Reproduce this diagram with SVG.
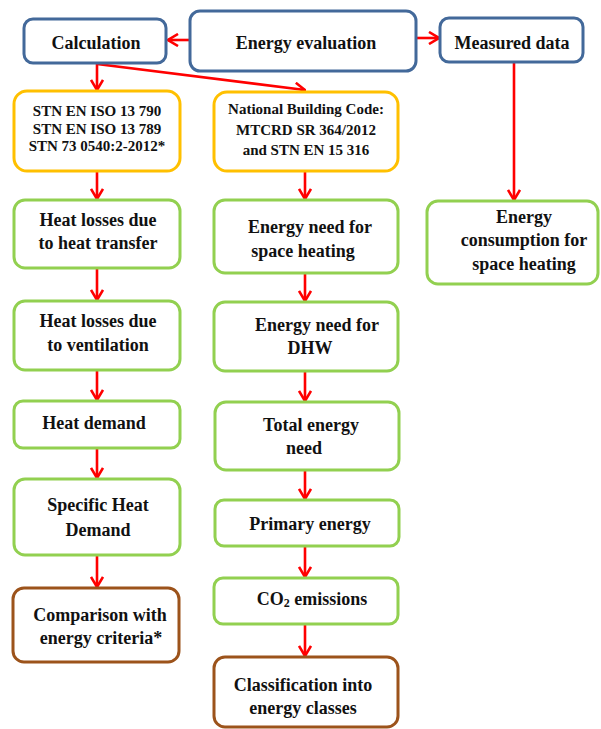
<svg xmlns="http://www.w3.org/2000/svg" width="601" height="729" viewBox="0 0 601 729">
<style>
rect{fill:#fff;stroke-width:3}
.b{stroke:#43699A}
.o{stroke:#FFC000}
.g{stroke:#92D050}
.r{stroke:#9C531B}
text{font-weight:bold;font-size:18px;fill:#111;text-anchor:middle}
.s{font-size:15px}
.c line{stroke:#FF0000;stroke-width:2.6;marker-end:url(#ah)}
</style>
<defs>
<marker id="ah" viewBox="0 0 12 14" refX="11" refY="7" markerWidth="12" markerHeight="14" markerUnits="userSpaceOnUse" orient="auto">
<path d="M1,1 L11,7 L1,13" fill="none" stroke="#FF0000" stroke-width="2.6"/>
</marker>
</defs>
<g class="c" id="connectors">
<line x1="190" y1="40" x2="168" y2="40"/>
<line x1="416" y1="38" x2="439" y2="38"/>
<line x1="97" y1="64" x2="97" y2="90"/>
<line x1="97" y1="64" x2="305" y2="90"/>
<line x1="514" y1="63" x2="514" y2="200"/>
<line x1="97" y1="172" x2="97" y2="199"/>
<line x1="97" y1="269" x2="97" y2="300"/>
<line x1="97" y1="371" x2="97" y2="400"/>
<line x1="97" y1="449" x2="97" y2="478"/>
<line x1="97" y1="556" x2="97" y2="587"/>
<line x1="305" y1="172" x2="305" y2="199"/>
<line x1="305" y1="274" x2="305" y2="301"/>
<line x1="305" y1="372" x2="305" y2="401"/>
<line x1="305" y1="471" x2="305" y2="499"/>
<line x1="305" y1="547" x2="305" y2="577"/>
<line x1="305" y1="625" x2="305" y2="656"/>
</g>
<g font-family="'Liberation Serif', 'Times New Roman', serif">
<g id="calculation"><rect class="b" x="24" y="19" width="142" height="44" rx="9"/><text x="96" y="49">Calculation</text></g>
<g id="energy-evaluation"><rect class="b" x="190" y="11" width="226" height="60" rx="10"/><text x="306" y="49">Energy evaluation</text></g>
<g id="measured-data"><rect class="b" x="440" y="18" width="143" height="44" rx="9"/><text x="512" y="49">Measured data</text></g>
<g id="stn"><rect class="o" x="14" y="91" width="166" height="80" rx="13"/><text class="s" x="97" y="116">STN EN ISO 13 790</text><text class="s" x="97" y="133.5">STN EN ISO 13 789</text><text class="s" x="97" y="151">STN 73 0540:2-2012*</text></g>
<g id="nbc"><rect class="o" x="214" y="92" width="184" height="79" rx="13"/><text class="s" x="306" y="114">National Building Code:</text><text class="s" x="306" y="135">MTCRD SR 364/2012</text><text class="s" x="306" y="155">and STN EN 15 316</text></g>
<g id="heat-transfer"><rect class="g" x="14" y="200" width="166" height="68" rx="11"/><text x="98" y="226">Heat losses due</text><text x="98" y="249">to heat transfer</text></g>
<g id="heat-ventilation"><rect class="g" x="14" y="301" width="166" height="69" rx="11"/><text x="98" y="327">Heat losses due</text><text x="98" y="351">to ventilation</text></g>
<g id="heat-demand"><rect class="g" x="14" y="401" width="166" height="47" rx="9"/><text x="94" y="429">Heat demand</text></g>
<g id="specific-heat-demand"><rect class="g" x="14" y="479" width="166" height="76" rx="11"/><text x="98" y="511">Specific Heat</text><text x="98" y="536">Demand</text></g>
<g id="comparison"><rect class="r" x="13" y="588" width="166" height="74" rx="11"/><text x="100" y="621">Comparison with</text><text x="101" y="644">energy criteria*</text></g>
<g id="need-space-heating"><rect class="g" x="214" y="200" width="184" height="73" rx="11"/><text x="310" y="233">Energy need for</text><text x="303" y="257">space heating</text></g>
<g id="need-dhw"><rect class="g" x="214" y="302" width="184" height="69" rx="11"/><text x="317" y="331">Energy need for</text><text x="310" y="354">DHW</text></g>
<g id="total-energy-need"><rect class="g" x="215" y="402" width="184" height="68" rx="11"/><text x="311" y="431">Total energy</text><text x="304" y="454">need</text></g>
<g id="primary-energy"><rect class="g" x="215" y="500" width="184" height="46" rx="9"/><text x="310" y="530">Primary energy</text></g>
<g id="co2"><rect class="g" x="214" y="578" width="184" height="46" rx="9"/><text x="312" y="605">CO<tspan font-size="12" dy="2">2</tspan><tspan dy="-2"> emissions</tspan></text></g>
<g id="classification"><rect class="r" x="214" y="657" width="184" height="70" rx="11"/><text x="303" y="691">Classification into</text><text x="303" y="714">energy classes</text></g>
<g id="consumption"><rect class="g" x="427" y="201" width="171" height="83" rx="11"/><text x="524" y="223">Energy</text><text x="524" y="246">consumption for</text><text x="524" y="270">space heating</text></g>
</g>
</svg>
